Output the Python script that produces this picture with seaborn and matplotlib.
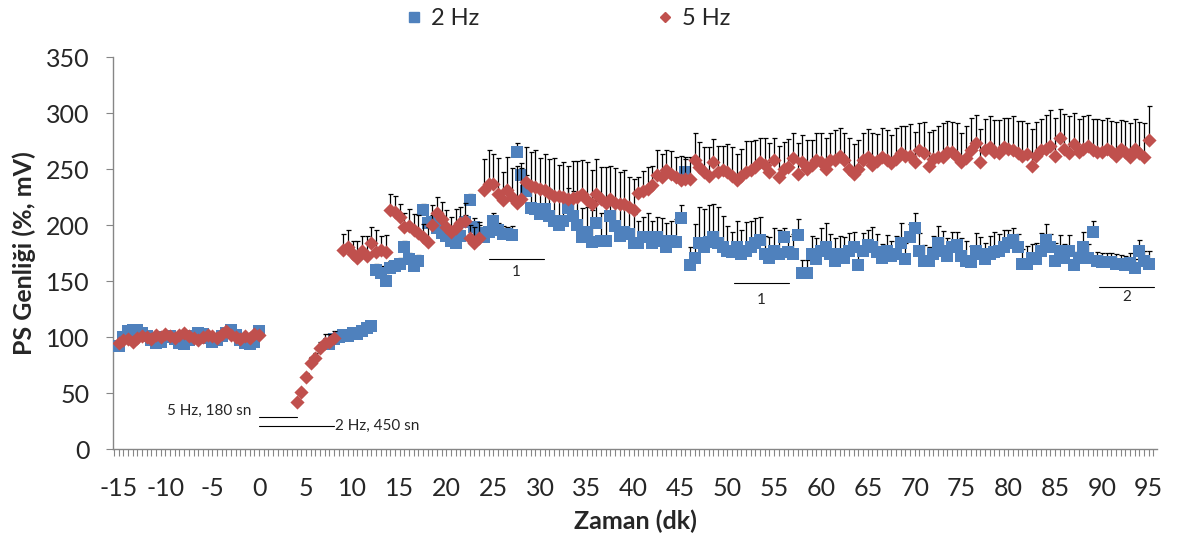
import matplotlib
matplotlib.use("Agg")
import matplotlib.pyplot as plt
from matplotlib.lines import Line2D
from matplotlib.ticker import MultipleLocator
import numpy as np
import pandas as pd
import seaborn as sns

STEP = 0.5  # one sweep every 30 s
BLUE = "#4F81BD"
RED = "#C0504D"
AXIS_GREY = "#868686"

# --- baseline, -15 .. 0 dk -------------------------------------------------
base_start = -15.0
hz2_base = [92, 100, 105, 106, 106, 104, 101, 97, 95, 96,
            100, 101, 98, 95, 94, 97, 101, 104, 103, 99,
            96, 97, 101, 104, 106, 102, 97, 95, 94, 96,
            105]
hz5_base = [95, 97, 98, 96, 99, 101, 100, 98, 102, 100,
            103, 101, 99, 102, 104, 101, 99, 97, 100, 102,
            101, 99, 103, 105, 102, 100, 98, 101, 99, 103,
            102]

# --- 2 Hz, recording resumes at 7.5 dk --------------------------------------
hz2_start = 7.5
hz2_vals = [94, 98, 100, 102, 101, 104, 103, 105, 108, 110,      # 7.5
            160, 157, 150, 162, 163, 165, 180, 170, 163, 168,    # 12.5
            213, 202, 203, 197, 193, 190, 186, 184, 190, 203,    # 17.5
            222, 198, 193, 189, 194, 204, 196, 192, 192, 191,    # 22.5
            265, 245, 230, 215, 214, 210, 214, 208, 204, 200,    # 27.5
            204, 215, 208, 200, 189, 194, 185, 202, 186, 186,    # 32.5
            208, 199, 190, 194, 192, 184, 184, 189, 189, 184,    # 37.5
            189, 186, 180, 186, 185, 206, 247, 164, 171, 184,    # 42.5
            180, 185, 189, 184, 180, 177, 176, 180, 174, 177,    # 47.5
            180, 184, 187, 174, 171, 177, 174, 189, 176, 174,    # 52.5
            191, 157, 157, 174, 170, 177, 180, 174, 168, 174,    # 57.5
            171, 177, 180, 164, 177, 182, 180, 176, 171, 177,    # 62.5
            172, 174, 184, 170, 189, 197, 177, 168, 168, 174,    # 67.5
            184, 177, 172, 180, 182, 172, 168, 167, 177, 174,    # 72.5
            170, 174, 176, 177, 180, 184, 187, 180, 165, 165,    # 77.5
            171, 170, 177, 187, 180, 168, 177, 171, 177, 164,    # 82.5
            171, 180, 171, 194, 168, 167, 167, 167, 165, 165,    # 87.5
            164, 166, 162, 177, 168, 165]                        # 92.5
hz2_err = [2, 2, 2, 2, 3, 2, 3, 2, 3, 3,
           5, 6, 5, 6, 5, 6, 6, 5, 6, 5,
           6, 5, 6, 5, 6, 5, 6, 5, 6, 6,
           6, 8, 7, 6, 8, 7, 6, 7, 6, 8,
           8, 10, 15, 18, 20, 22, 18, 24, 20, 22,
           20, 18, 22, 24, 26, 22, 28, 20, 25, 24,
           18, 22, 25, 22, 24, 26, 20, 18, 22, 20,
           18, 20, 22, 18, 20, 12, 14, 16, 30, 32,
           34, 33, 30, 32, 28, 22, 18, 24, 22, 26,
           24, 22, 20, 16, 18, 20, 22, 8, 14, 18,
           14, 12, 12, 16, 18, 20, 22, 18, 20, 16,
           18, 16, 14, 12, 16, 14, 18, 16, 12, 14,
           14, 16, 18, 14, 12, 14, 16, 14, 12, 16,
           15, 18, 16, 14, 12, 16, 18, 14, 16, 15,
           14, 16, 18, 15, 16, 12, 10, 12, 14, 16,
           12, 14, 16, 14, 12, 16, 14, 12, 14, 12,
           12, 14, 12, 10, 8, 8, 8, 8, 9, 8,
           8, 9, 8, 10, 9, 12]

# --- 5 Hz, recovery 4 .. 8 dk, then from 9 dk ------------------------------
hz5_rec_start = 4.0
hz5_rec = [42, 51, 64, 77, 81, 90, 95, 96, 99]
hz5_rec_err = [3, 3, 4, 5, 5, 6, 8, 7, 6]

hz5_start = 9.0
hz5_vals = [178, 180, 174, 171, 177, 172, 184, 176, 178, 176,    # 9
            213, 212, 207, 198, 199, 196, 193, 189, 185, 200,    # 14
            211, 205, 198, 194, 197, 202, 204, 188, 184, 188,    # 19
            231, 237, 237, 228, 222, 231, 225, 220, 223, 238,    # 24
            235, 234, 232, 231, 229, 226, 226, 225, 223, 224,    # 29
            225, 228, 222, 219, 228, 223, 220, 223, 220, 219,    # 34
            219, 216, 213, 229, 230, 232, 236, 245, 243, 249,    # 39
            246, 243, 240, 241, 241, 258, 252, 247, 244, 256,    # 44
            247, 249, 247, 244, 240, 244, 247, 249, 252, 256,    # 49
            254, 247, 258, 243, 250, 252, 260, 246, 256, 250,    # 54
            254, 258, 256, 250, 258, 258, 262, 258, 250, 246,    # 59
            250, 258, 261, 254, 257, 261, 258, 255, 259, 264,    # 64
            262, 262, 256, 267, 264, 253, 259, 261, 261, 265,    # 69
            265, 261, 256, 260, 267, 273, 256, 267, 270, 265,    # 74
            264, 270, 268, 267, 264, 262, 263, 253, 262, 267,    # 79
            268, 271, 262, 278, 268, 264, 272, 265, 268, 271,    # 84
            267, 265, 265, 268, 266, 262, 268, 265, 261, 268,    # 89
            264, 261, 276]                                       # 94
hz5_err = [14, 16, 12, 15, 13, 18, 14, 20, 12, 15,
           15, 14, 12, 13, 15, 14, 16, 12, 13, 18,
           14, 16, 15, 13, 17, 14, 16, 12, 14, 15,
           28, 30, 26, 32, 25, 30, 26, 33, 28, 32,
           30, 33, 28, 32, 30, 34, 28, 31, 30, 33,
           32, 30, 34, 30, 31, 29, 32, 30, 31, 28,
           30, 27, 28, 14, 18, 20, 17, 22, 20, 18,
           20, 18, 22, 18, 20, 24, 22, 23, 26, 21,
           24, 22, 25, 26, 23, 24, 28, 26, 24, 22,
           24, 26, 20, 28, 24, 25, 22, 27, 24, 26,
           22, 24, 26, 28, 24, 27, 25, 24, 28, 26,
           26, 24, 25, 28, 24, 26, 27, 25, 28, 24,
           26, 28, 27, 24, 28, 30, 26, 27, 30, 28,
           27, 30, 26, 28, 29, 25, 30, 28, 27, 29,
           30, 26, 28, 30, 29, 31, 28, 33, 30, 28,
           30, 32, 34, 26, 31, 33, 28, 30, 29, 27,
           28, 30, 29, 28, 27, 30, 26, 28, 30, 27,
           28, 30, 30]

# stimulation bars and recovery-phase markers
stim_marks = [(0, 4, 29, "5 Hz, 180 sn"), (0, 8, 20.5, "2 Hz, 450 sn")]
phase_marks = [(24.6, 30.4, 170, "1", 158),
               (50.7, 56.6, 148, "1", 133),
               (89.7, 95.6, 145, "2", 136)]


def segment(start, vals, err=None):
    t = start + STEP * np.arange(len(vals))
    e = np.zeros(len(vals)) if err is None else np.asarray(err, float)
    return pd.DataFrame({"t": t, "v": vals, "e": e})


blue = pd.concat([segment(base_start, hz2_base),
                  segment(hz2_start, hz2_vals, hz2_err)], ignore_index=True)
red = pd.concat([segment(base_start, hz5_base),
                 segment(hz5_rec_start, hz5_rec, hz5_rec_err),
                 segment(hz5_start, hz5_vals, hz5_err)], ignore_index=True)

sns.set_style("white")
plt.rcParams["font.family"] = ["Lato", "DejaVu Sans"]
plt.rcParams["axes.unicode_minus"] = False

fig, ax = plt.subplots(figsize=(11.82, 5.43), dpi=100)
fig.subplots_adjust(left=0.0956, right=0.979, bottom=0.173, top=0.895)

z = 2
for df, color, marker, size in [(blue, BLUE, "s", 78), (red, RED, "D", 52)]:
    eb = df[df.e > 0]
    ax.errorbar(eb.t, eb.v, yerr=[np.zeros(len(eb)), eb.e], fmt="none",
                ecolor="black", elinewidth=0.9, capsize=1.8, capthick=0.9,
                zorder=z)
    sns.scatterplot(data=df, x="t", y="v", marker=marker, color=color,
                    s=size, linewidth=0, ax=ax, zorder=z + 1, legend=False)
    z += 2

for x0, x1, y, label in stim_marks:
    ax.plot([x0, x1], [y, y], color="black", lw=0.8)
ax.text(-0.8, 34, stim_marks[0][3], ha="right", va="center", fontsize=11)
ax.text(8.1, 21, stim_marks[1][3], ha="left", va="center", fontsize=11)

for x0, x1, y, label, ly in phase_marks:
    ax.plot([x0, x1], [y, y], color="black", lw=0.8)
    ax.text((x0 + x1) / 2, ly, label, ha="center", va="center", fontsize=11)

ax.set_xlim(-15.6, 95.9)
ax.set_ylim(0, 350)
ax.set_xticks(range(-15, 100, 5))
ax.xaxis.set_minor_locator(MultipleLocator(0.5))
ax.set_yticks(range(0, 351, 50))
ax.tick_params(axis="x", which="both", length=5, width=0.8, color=AXIS_GREY,
               direction="out", bottom=True, labelsize=18, pad=15)
ax.tick_params(axis="y", length=5, width=0.8, color=AXIS_GREY,
               direction="out", left=True, labelsize=18, pad=12)
sns.despine(ax=ax)
for side in ("left", "bottom"):
    ax.spines[side].set_color(AXIS_GREY)
    ax.spines[side].set_linewidth(1)

ax.set_xlabel("Zaman (dk)", fontsize=18, fontweight="bold", labelpad=7)
ax.set_ylabel("PS Genliği (%, mV)", fontsize=18, fontweight="bold", labelpad=7)

handles = [Line2D([], [], marker="s", color=BLUE, ls="", markersize=7),
           Line2D([], [], marker="D", color=RED, ls="", markersize=5.5)]
fig.legend(handles, ["2 Hz", "5 Hz"], loc="center", ncol=2,
           bbox_to_anchor=(0.48, 0.966), frameon=False, fontsize=17,
           handletextpad=0.3, handlelength=0.8, columnspacing=7.5)

fig.savefig("out.png", dpi=100)
